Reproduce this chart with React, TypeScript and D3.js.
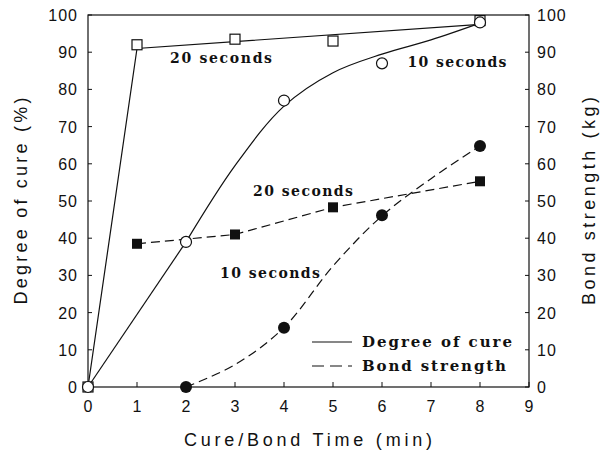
import React from "react";
import * as d3 from "d3";

// cure / bond time (min)
const cure20X = [0, 1, 3, 5, 8];
const cure20Y = [0, 92, 93.5, 93, 98.5];
const cure20FitX = [0, 1, 8];
const cure20FitY = [0, 91, 97.5];

const cure10X = [0, 2, 4, 6, 8];
const cure10Y = [0, 39, 77, 87, 98];
// fitted curve: straight to 2 min, smooth after
const cure10StartX = [0, 2];
const cure10StartY = [0, 39];
const cure10FitX = [2, 3, 4, 5, 6, 7, 8];
const cure10FitY = [39, 59.5, 75.5, 84.5, 89.5, 93.3, 97.8];

const bond20X = [1, 3, 5, 8];
const bond20Y = [38.5, 41, 48.3, 55.3];

const bond10X = [2, 4, 6, 8];
const bond10Y = [0, 15.9, 46.2, 64.8];
const bond10FitX = [2, 3, 4, 5, 6, 7, 8];
const bond10FitY = [0, 6, 16, 32.5, 46, 56, 64.8];

const xTicks = [0, 1, 2, 3, 4, 5, 6, 7, 8, 9];
const yTicks = [0, 10, 20, 30, 40, 50, 60, 70, 80, 90, 100];

const zip = (xs: number[], ys: number[]) => xs.map((x, i) => [x, ys[i]] as [number, number]);

const W = 604;
const H = 455;
const left = 88;
const right = 529;
const top = 15;
const bottom = 387;

const App = () => {
  const x = d3.scaleLinear().domain([0, 9]).range([left, right]);
  const y = d3.scaleLinear().domain([0, 100]).range([bottom, top]);

  const lin = d3
    .line<[number, number]>()
    .x((d) => x(d[0]))
    .y((d) => y(d[1]));
  const smooth = d3
    .line<[number, number]>()
    .x((d) => x(d[0]))
    .y((d) => y(d[1]))
    .curve(d3.curveCatmullRom.alpha(0.5));

  const sans = "'Liberation Sans', Arial, sans-serif";
  const serif = "'DejaVu Serif', serif";
  const ink = "#111";

  return (
    <svg
      width={W}
      height={H}
      style={{ position: "absolute", left: 0, top: 0, background: "#fff" }}
    >
      {/* frame */}
      <rect x={left} y={top} width={right - left} height={bottom - top} fill="none" stroke={ink} strokeWidth={1.2} />

      {/* ticks */}
      {xTicks.map((t) => (
        <g key={"x" + t}>
          <line x1={x(t)} x2={x(t)} y1={bottom} y2={bottom - 5} stroke={ink} />
          <text x={x(t)} y={412} textAnchor="middle" fontFamily={sans} fontSize={16} fill={ink}>
            {t}
          </text>
        </g>
      ))}
      {yTicks.map((t) => (
        <g key={"y" + t}>
          <line x1={left} x2={left + 4} y1={y(t)} y2={y(t)} stroke={ink} />
          <line x1={right - 4} x2={right} y1={y(t)} y2={y(t)} stroke={ink} />
          <text x={78} y={y(t) + 6} textAnchor="end" fontFamily={sans} fontSize={16} fill={ink} letterSpacing={1}>
            {t}
          </text>
          <text x={537} y={y(t) + 6} textAnchor="start" fontFamily={sans} fontSize={16} fill={ink} letterSpacing={1}>
            {t}
          </text>
        </g>
      ))}

      {/* axis titles */}
      <text x={308} y={446} textAnchor="middle" fontFamily={sans} fontSize={18} fill={ink} textLength={248} lengthAdjust="spacing">
        Cure/Bond Time (min)
      </text>
      <text
        transform={`translate(27,201) rotate(-90)`}
        textAnchor="middle"
        fontFamily={sans}
        fontSize={18}
        fill={ink}
        textLength={207}
        lengthAdjust="spacing"
      >
        Degree of cure (%)
      </text>
      <text
        transform={`translate(595,201) rotate(-90)`}
        textAnchor="middle"
        fontFamily={sans}
        fontSize={18}
        fill={ink}
        textLength={208}
        lengthAdjust="spacing"
      >
        Bond strength (kg)
      </text>

      {/* lines */}
      <path d={lin(zip(cure20FitX, cure20FitY)) || ""} fill="none" stroke={ink} strokeWidth={1.2} />
      <path d={lin(zip(cure10StartX, cure10StartY)) || ""} fill="none" stroke={ink} strokeWidth={1.2} />
      <path d={smooth(zip(cure10FitX, cure10FitY)) || ""} fill="none" stroke={ink} strokeWidth={1.2} />
      <path d={lin(zip(bond20X, bond20Y)) || ""} fill="none" stroke={ink} strokeWidth={1.2} strokeDasharray="9,5" />
      <path d={smooth(zip(bond10FitX, bond10FitY)) || ""} fill="none" stroke={ink} strokeWidth={1.2} strokeDasharray="9,5" />

      {/* markers */}
      {zip(cure20X, cure20Y).map((d, i) => (
        <rect key={"s" + i} x={x(d[0]) - 5} y={y(d[1]) - 5} width={10} height={10} fill="#fff" stroke={ink} strokeWidth={1.2} />
      ))}
      {zip(cure10X, cure10Y).map((d, i) => (
        <circle key={"c" + i} cx={x(d[0])} cy={y(d[1])} r={5.5} fill="#fff" stroke={ink} strokeWidth={1.2} />
      ))}
      {zip(bond20X, bond20Y).map((d, i) => (
        <rect key={"fs" + i} x={x(d[0]) - 5} y={y(d[1]) - 5} width={10} height={10} fill={ink} />
      ))}
      {zip(bond10X, bond10Y).map((d, i) => (
        <circle key={"fc" + i} cx={x(d[0])} cy={y(d[1])} r={6} fill={ink} />
      ))}

      {/* annotations */}
      <text x={221} y={63} textAnchor="middle" fontFamily={serif} fontSize={14} fontWeight="bold" fill={ink} textLength={102}>
        20 seconds
      </text>
      <text x={457} y={67} textAnchor="middle" fontFamily={serif} fontSize={14} fontWeight="bold" fill={ink} textLength={99}>
        10 seconds
      </text>
      <text x={303} y={196} textAnchor="middle" fontFamily={serif} fontSize={14} fontWeight="bold" fill={ink} textLength={100}>
        20 seconds
      </text>
      <text x={270} y={278} textAnchor="middle" fontFamily={serif} fontSize={14} fontWeight="bold" fill={ink} textLength={100}>
        10 seconds
      </text>

      {/* legend */}
      <line x1={312} x2={352} y1={342} y2={342} stroke={ink} strokeWidth={1.2} />
      <line x1={312} x2={352} y1={366} y2={366} stroke={ink} strokeWidth={1.2} strokeDasharray="12,6" />
      <text x={362} y={347} fontFamily={serif} fontSize={15} fontWeight="bold" fill={ink} textLength={150}>
        Degree of cure
      </text>
      <text x={362} y={371} fontFamily={serif} fontSize={15} fontWeight="bold" fill={ink} textLength={144}>
        Bond strength
      </text>
    </svg>
  );
};

export default App;
